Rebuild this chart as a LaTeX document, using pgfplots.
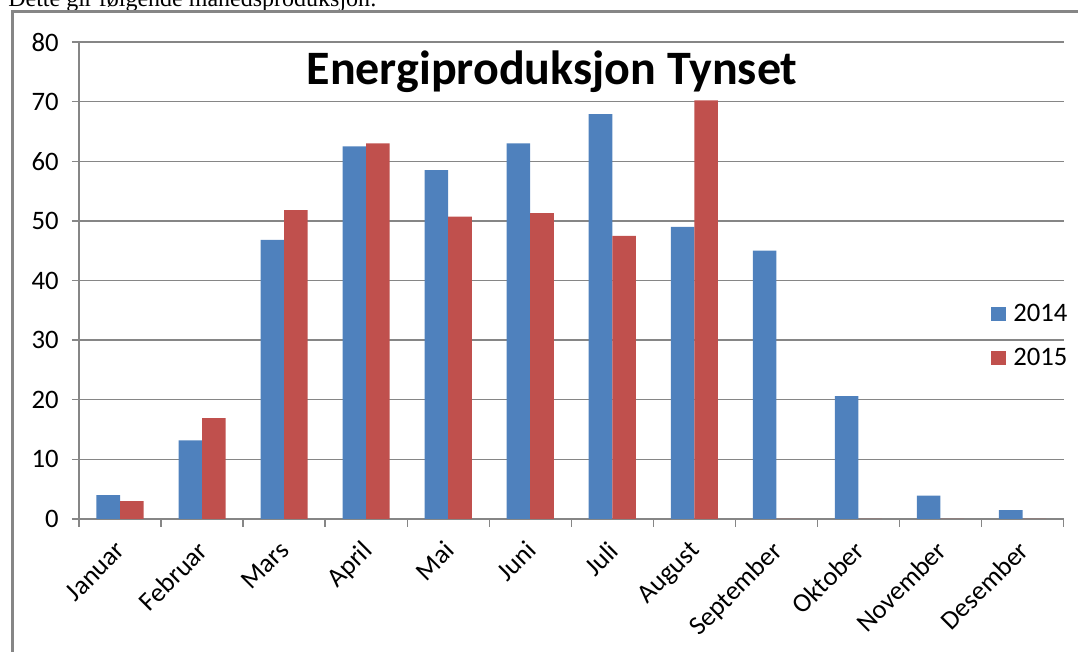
\documentclass[border=0pt]{standalone}
\usepackage{fontspec}
\setmainfont{Carlito}
\newfontfamily\timesfont{Liberation Serif}
\usepackage{pgfplots}
\pgfplotsset{compat=1.18}
\definecolor{xblue}{RGB}{79,129,189}
\definecolor{xred}{RGB}{192,80,77}
\definecolor{xgray}{RGB}{134,134,134}
\begin{document}
\begin{tikzpicture}
\useasboundingbox (0,0) rectangle (808.5pt,489pt);
\clip (0,0) rectangle (808.5pt,489pt);
\node[anchor=base west, inner sep=0pt, font=\timesfont\fontsize{18}{21}\selectfont] at (6pt,483.75pt) {Dette gir følgende månedsproduksjon:};
\draw[xgray, line width=2.25pt] (9pt,-5pt) -- (9pt,480pt) -- (820pt,480pt);
\begin{axis}[
  at={(59.25pt,99.75pt)}, anchor=south west,
  scale only axis, width=738.4pt, height=357.75pt,
  xmin=-0.5, xmax=11.5, ymin=0, ymax=80,
  ybar=0pt, bar width=0.287,
  axis lines=left, axis line style={-, draw=xgray, line width=1pt},
  ytick={0,10,...,80}, ymajorgrids, grid style={xgray, line width=1pt},
  tick align=outside, major tick length=5.25pt, minor tick length=5.75pt,
  tick style={xgray, line width=1pt},
  xtick={0,...,11},
  xticklabels={Januar,Februar,Mars,April,Mai,Juni,Juli,August,September,Oktober,November,Desember},
  minor xtick={-0.5,0.5,...,11.5},
  major x tick style={draw=none},
  tick label style={font=\fontsize{20}{24}\selectfont},
  /pgf/number format/assume math mode=true,
  yticklabel style={anchor=east, inner sep=0pt, xshift=-9.75pt},
  xticklabel style={rotate=45, anchor=north east, inner sep=0pt, xshift=-10pt, yshift=-4pt},
  legend style={at={(0.926,0.385)}, anchor=west, draw=none, fill=none, inner sep=0pt,
    font=\fontsize{20}{24}\selectfont, row sep=17pt, column sep=5.5pt,
    nodes={inner sep=0pt, text height=14pt, text depth=2pt}},
  legend cell align=left,
]
\addplot[draw=none, fill=xblue, legend image code/.code={\path[fill=xblue] (0pt,-5.5pt) rectangle (11.25pt,5pt);}] coordinates {
(0,4.0) (1,13.2) (2,46.8) (3,62.5) (4,58.5) (5,63.0) (6,67.9) (7,49.0) (8,45.0) (9,20.6) (10,3.9) (11,1.5)};
\addplot[draw=none, fill=xred, legend image code/.code={\path[fill=xred] (0pt,-5.5pt) rectangle (11.25pt,5pt);}] coordinates {
(0,3.0) (1,16.9) (2,51.8) (3,63.0) (4,50.7) (5,51.3) (6,47.5) (7,70.2) (8,0) (9,0) (10,0) (11,0)};
\legend{2014,2015}
\end{axis}
\node[anchor=base, inner sep=0pt, font=\bfseries\fontsize{36}{43}\selectfont] at (414pt,425.25pt) {Energiproduksjon Tynset};
\end{tikzpicture}
\end{document}
